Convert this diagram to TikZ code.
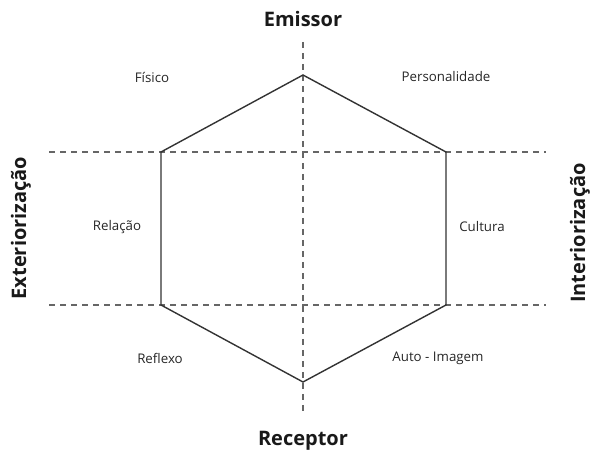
\documentclass[tikz,border=0pt]{standalone}
\usepackage{fontspec}
\setmainfont{Open Sans}
\begin{document}
\begin{tikzpicture}[x=1pt,y=-1pt,
  axis/.style={draw=black!60, line width=1.2pt, dash pattern=on 6pt off 5pt},
  hex/.style={draw=black!80, line width=1.4pt, line join=miter},
  lab/.style={font=\fontsize{13.3}{15}\selectfont, text=black!85},
  head/.style={font=\fontsize{20}{22}\selectfont\bfseries, text=black!90}]
\useasboundingbox (0,0) rectangle (590,454);
\coordinate (T) at (303,75);
\coordinate (UL) at (161,152);
\coordinate (UR) at (446,152);
\coordinate (LL) at (161,305);
\coordinate (LR) at (446,305);
\coordinate (B) at (303,382);
\coordinate (hl1) at (49,152);
\coordinate (hr1) at (546,152);
\coordinate (hl2) at (49,305);
\coordinate (hr2) at (546,305);
\coordinate (vt) at (303,42);
\coordinate (vb) at (303,415);
\draw[axis] (hl1) -- (hr1);
\draw[axis] (hl2) -- (hr2);
\draw[axis] (vt) -- (vb);
\draw[hex] (T) -- (UR) -- (LR) -- (B) -- (LL) -- (UL) -- cycle;
\node[head] (em) at (303,19) {Emissor};
\node[head] (rc) at (303,441) {Receptor};
\node[head, rotate=90, inner sep=0pt] (ex) at (21,228) {Exteriorização};
\node[head, rotate=90, inner sep=0pt] (in) at (580,233) {Interiorização};
\node[lab] (fi) at (152,77) {Físico};
\node[lab] (pe) at (446,77) {Personalidade};
\node[lab] (re) at (117,227) {Relação};
\node[lab] (cu) at (482,227) {Cultura};
\node[lab] (rf) at (160,358) {Reflexo};
\node[lab] (au) at (438,358) {Auto - Imagem};
\end{tikzpicture}
\end{document}
